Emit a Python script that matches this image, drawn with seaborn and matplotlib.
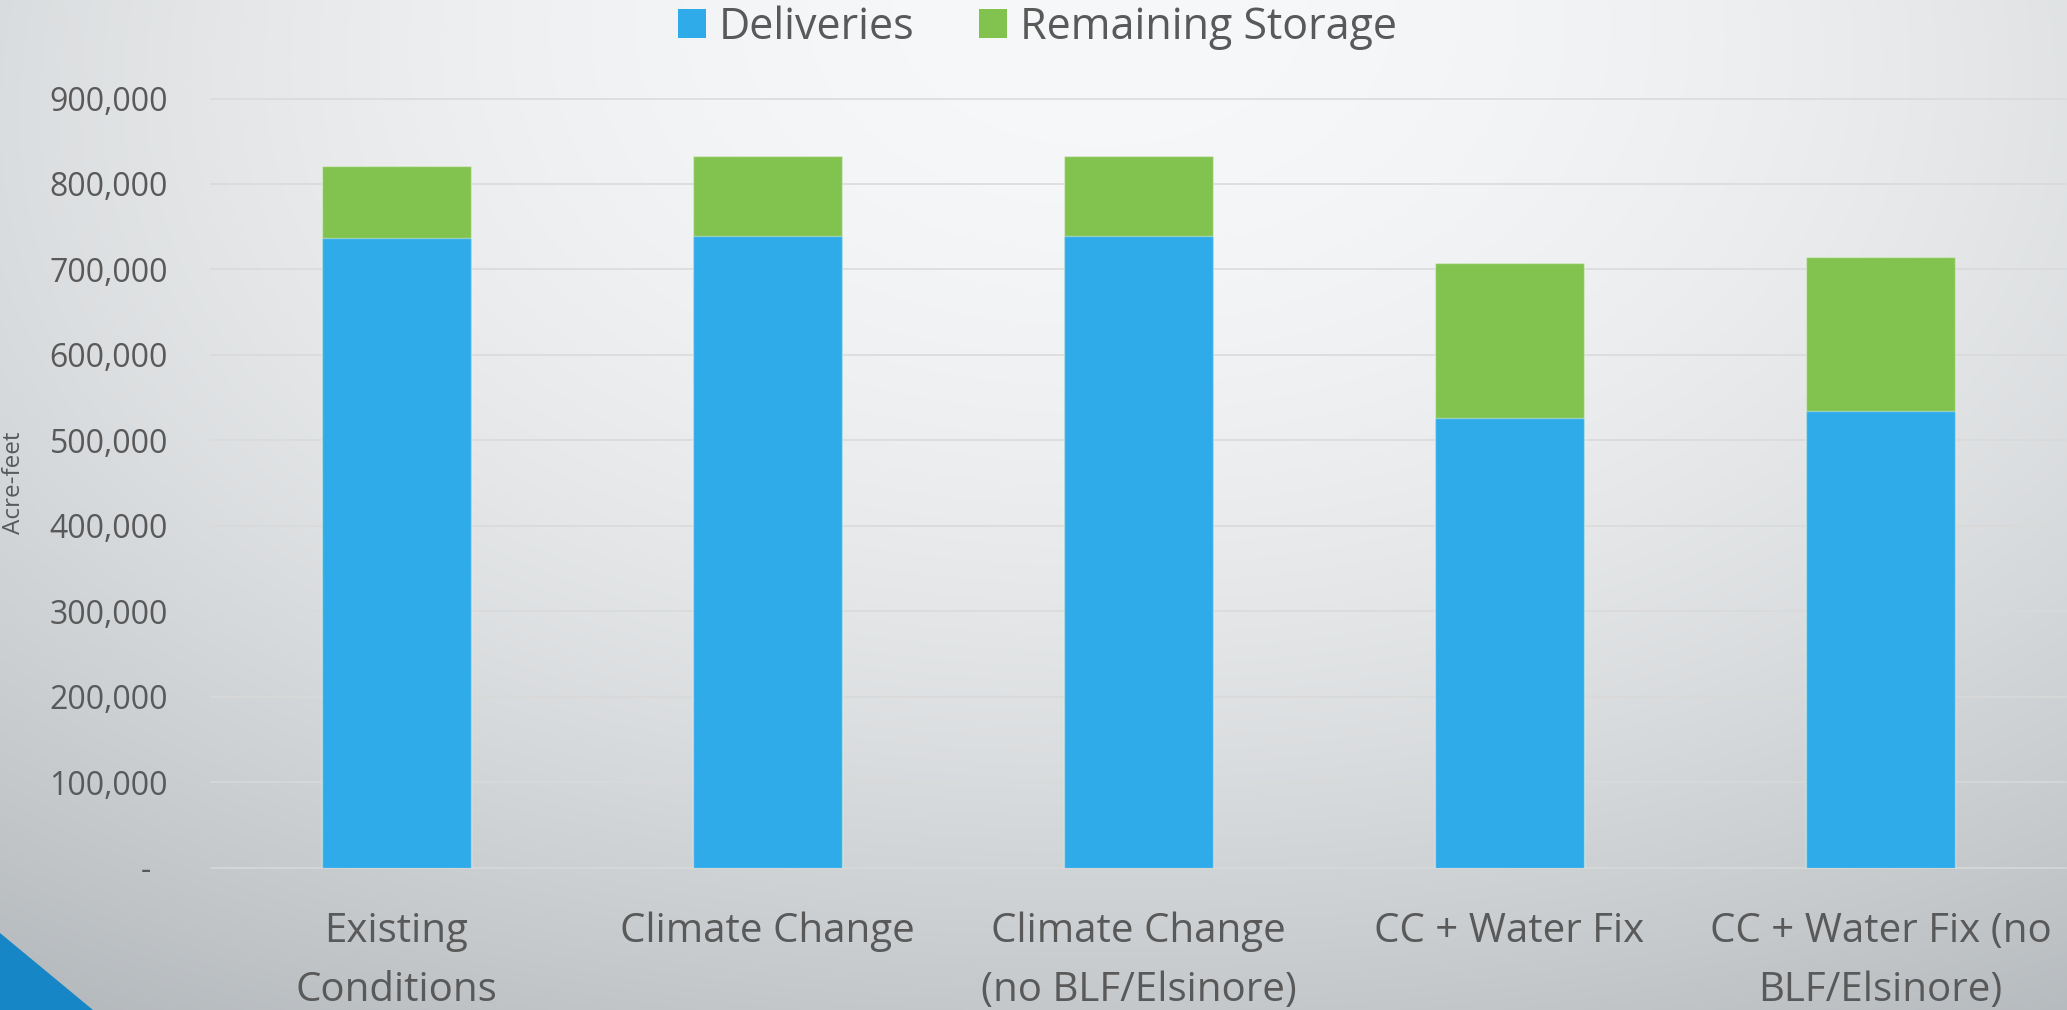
import numpy as np
import pandas as pd
import matplotlib
matplotlib.use("Agg")
import matplotlib.pyplot as plt
import seaborn as sns
from matplotlib.ticker import FuncFormatter, FixedLocator
from matplotlib.patches import Polygon, Patch

# ---------------- data ----------------
categories = [
    "Existing\nConditions",
    "Climate Change",
    "Climate Change\n(no BLF/Elsinore)",
    "CC + Water Fix",
    "CC + Water Fix (no\nBLF/Elsinore)",
]
deliveries = [737000, 739000, 739000, 526500, 534800]
remaining_storage = [84500, 93400, 93400, 180500, 180000]
series_labels = ["Deliveries", "Remaining Storage"]
y_ticks = [0, 100000, 200000, 300000, 400000, 500000, 600000, 700000, 800000, 900000]
y_label = "Acre-feet"

# ---------------- style ----------------
BLUE = "#2FABE9"
GREEN = "#82C34F"
TRI = "#1686C6"
TXT = "#595959"
GRID = "#D9D9D9"

plt.rcParams["font.family"] = ["Open Sans", "DejaVu Sans"]

W, H = 2067, 1010
fig = plt.figure(figsize=(W / 100, H / 100), dpi=100)

# background gradient
bg = fig.add_axes([0, 0, 1, 1], zorder=-5)
yy, xx = np.mgrid[0:H, 0:W].astype(float)
dx = (xx - 1100) / 1100.0
dy = yy / H
c = 249 - 27 * dx ** 2 * (1 - 0.4 * dy) - 46 * dy ** 2
d = 249 - c
img = np.stack([c - 2 - 0.10 * d, c - 1 - 0.04 * d, c], axis=-1) / 255.0
img = np.clip(img, 0, 1)
bg.imshow(img, extent=[0, 1, 0, 1], aspect="auto", interpolation="bilinear")
bg.add_patch(Polygon([[0, 0], [0, 77 / H], [93 / W, 0]], closed=True,
                     facecolor=TRI, edgecolor="none"))
bg.set_xlim(0, 1)
bg.set_ylim(0, 1)
bg.axis("off")

ax = fig.add_axes([211 / W, 142.5 / H, 1855 / W, 769 / H])
ax.set_facecolor("none")

df = pd.DataFrame({
    "category": categories,
    "deliveries": deliveries,
    "remaining": remaining_storage,
})
df["total"] = df["deliveries"] + df["remaining"]

sns.barplot(data=df, x="category", y="total", color=GREEN, saturation=1,
            width=0.4, ax=ax, edgecolor=(1, 1, 1, 0.35), linewidth=1, zorder=3)
sns.barplot(data=df, x="category", y="deliveries", color=BLUE, saturation=1,
            width=0.4, ax=ax, edgecolor=(1, 1, 1, 0.35), linewidth=1, zorder=4)

ax.set_xlim(-0.5, len(categories) - 0.5)
ax.set_ylim(0, 900000)
ax.yaxis.set_major_locator(FixedLocator(y_ticks))
ax.yaxis.set_major_formatter(FuncFormatter(lambda v, p: "-  " if v == 0 else f"{int(v):,}"))
ax.grid(axis="y", color=GRID, linewidth=1.1, zorder=0)
ax.grid(axis="x", visible=False)
ax.set_axisbelow(True)
for gl in ax.get_ygridlines():
    gl.set_clip_on(False)
for s in ax.spines.values():
    s.set_visible(False)

ax.tick_params(axis="x", length=0, pad=32, labelsize=29, labelcolor=TXT)
ax.tick_params(axis="y", length=0, pad=31, labelsize=23, labelcolor=TXT)
for t in ax.get_xticklabels():
    t.set_linespacing(1.6)

ax.set_xlabel("")
ax.set_ylabel(y_label, fontsize=17.5, color=TXT)
ax.yaxis.set_label_coords(-0.0995, 0.5)

handles = [Patch(facecolor=BLUE, edgecolor="none"), Patch(facecolor=GREEN, edgecolor="none")]
fig.legend(handles, series_labels, loc="center", bbox_to_anchor=(0.502, 0.973), ncol=2,
           frameon=False, fontsize=31, handlelength=0.65, handleheight=0.65,
           handletextpad=0.3, columnspacing=1.5, labelcolor=TXT)

fig.savefig("out.png", dpi=100)
